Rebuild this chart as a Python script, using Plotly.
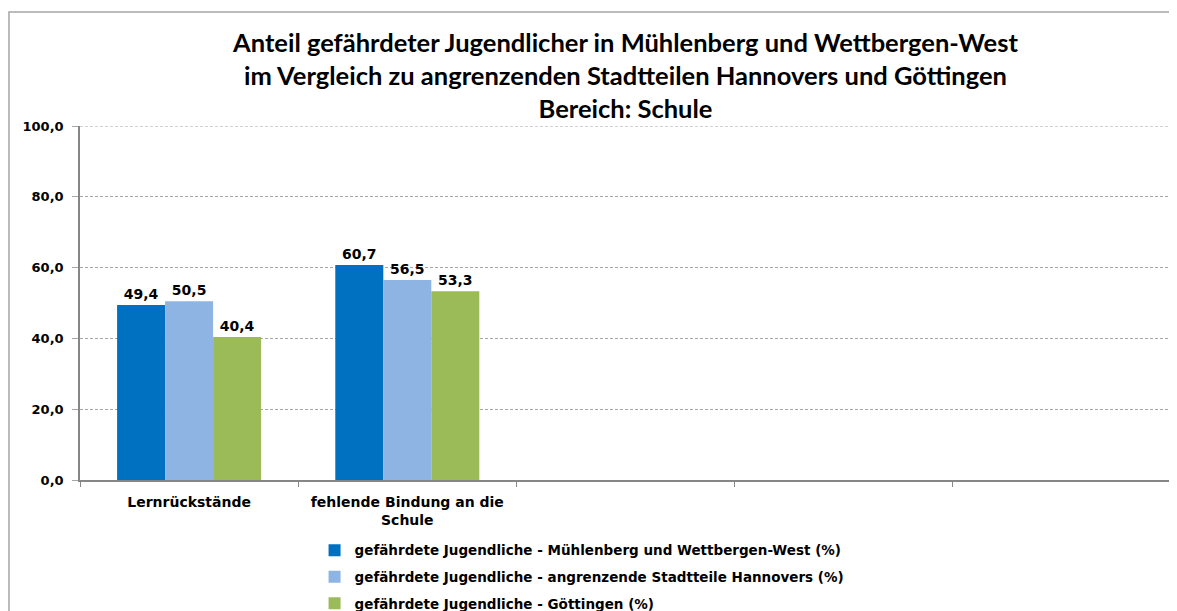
import plotly.graph_objects as go

categories = ["Lernrückstände", "fehlende Bindung an die<br>Schule", " ", "  ", "   "]
series_names = [
    "gefährdete Jugendliche - Mühlenberg und Wettbergen-West (%)",
    "gefährdete Jugendliche - angrenzende Stadtteile Hannovers (%)",
    "gefährdete Jugendliche - Göttingen (%)",
]
muehlenberg = [49.4, 60.7, None, None, None]
hannover = [50.5, 56.5, None, None, None]
goettingen = [40.4, 53.3, None, None, None]
colors = ["#0070C0", "#8DB4E2", "#9BBB59"]
yticks = [0, 20, 40, 60, 80, 100]
y_max = 100

fig = go.Figure()
for i, (name, vals, col) in enumerate(zip(series_names, [muehlenberg, hannover, goettingen], colors)):
    fig.add_trace(go.Bar(
        x=categories, y=vals, name=name, marker_color=col,
        marker_line_width=0, legendgroup="g%d" % i,
        text=[("%.1f" % v).replace(".", ",") if v is not None else "" for v in vals],
        textposition="outside", cliponaxis=False,
        textfont=dict(family="DejaVu Sans", size=14, color="black", weight="bold"),
    ))

fig.update_layout(
    width=1169, height=640,
    margin=dict(l=72, r=6, t=118, b=168),
    paper_bgcolor="white", plot_bgcolor="white",
    barmode="group", bargap=0.34, bargroupgap=0,
    separators=",.",
    title=dict(
        text="Anteil gefährdeter Jugendlicher in Mühlenberg und Wettbergen-West<br>im Vergleich zu angrenzenden Stadtteilen Hannovers und Göttingen<br>Bereich: Schule",
        x=0.5, xref="paper", xanchor="center", yref="container", y=0.932, yanchor="top",
        font=dict(family="Lato, sans-serif", size=25.5, color="black", weight="bold"),
    ),
    showlegend=True,
    legend=dict(
        x=0.215, xanchor="left", y=-0.155, yanchor="top",
        orientation="v", traceorder="grouped", tracegroupgap=6, itemwidth=30,
        font=dict(family="DejaVu Sans", size=13.5, color="black", weight="bold"),
        bgcolor="rgba(0,0,0,0)",
    ),
    xaxis=dict(
        type="category", range=[-0.5, 4.5], tickson="boundaries",
        showline=True, linecolor="#868686", linewidth=1.5,
        ticks="outside", ticklen=5, tickcolor="#868686",
        ticklabelstandoff=8,
        showgrid=False,
        tickfont=dict(family="DejaVu Sans", size=14, color="black", weight="bold"),
    ),
    yaxis=dict(
        range=[0, y_max], tickvals=yticks, tickformat=".1f",
        showline=True, linecolor="#868686", linewidth=1.5,
        ticks="outside", ticklen=6, tickcolor="#A6A6A6",
        ticklabelstandoff=6,
        showgrid=True, gridcolor="#A6A6A6", griddash="3px,2px", gridwidth=1,
        zeroline=False,
        tickfont=dict(family="DejaVu Sans", size=13, color="black", weight="bold"),
    ),
    shapes=[
        dict(
            type="rect", xref="paper", yref="paper",
            x0=-0.0651, x1=1.03, y0=-0.6, y1=1.322,
            line=dict(color="#A6A6A6", width=1.5), fillcolor="rgba(0,0,0,0)",
            layer="below",
        ),
        dict(
            type="line", xref="paper", yref="y",
            x0=0, x1=1, y0=y_max, y1=y_max,
            line=dict(color="#A6A6A6", width=1, dash="3px,2px"),
            layer="below",
        ),
    ],
)

fig.write_html("out.html")
